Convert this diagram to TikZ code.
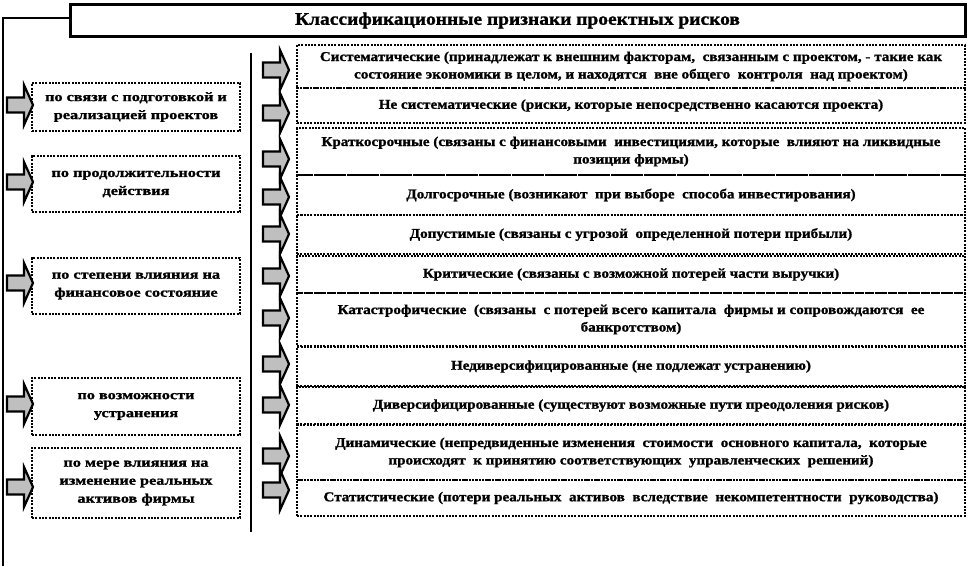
\documentclass[tikz,border=0pt]{standalone}
\usepackage{fontspec}
\setmainfont{Liberation Serif}
\newfontfamily\rfont{Liberation Serif}[FakeStretch=1.12, BoldFeatures={FakeBold=1.2}]
\newfontfamily\lfont{Liberation Serif}[FakeStretch=1.25, BoldFeatures={FakeBold=1.2}]
\newfontfamily\tfont{Liberation Serif}[FakeStretch=1.1, BoldFeatures={FakeBold=1.2}]
\begin{document}
\begin{tikzpicture}[x=1pt,y=-1pt,
  dotbox/.style={draw, line width=2pt, dash pattern=on 2pt off 1.3pt, inner sep=0pt},
  rtext/.style={font=\rfont\bfseries\fontsize{13.5}{17.5}\selectfont, align=center},
  ltext/.style={font=\lfont\bfseries\fontsize{13}{18}\selectfont, align=center},
  lbox/.style={dotbox, ltext, minimum width=208pt},
  rbox/.style={dotbox, rtext, minimum width=668pt},
  barrow/.pic={\draw[line width=2.2pt, fill=gray!50, line join=miter]
      (0,-7.5) -- (17,-7.5) -- (17,-20) -- (26,0) -- (17,20) -- (17,7.5) -- (0,7.5) -- cycle;}
]
\useasboundingbox (0,0) rectangle (970,566);
% title
\node[draw, line width=3pt, minimum width=895pt, minimum height=32pt, inner sep=0pt,
      font=\tfont\bfseries\fontsize{17.7}{19}\selectfont] (title) at (517.5,20.5)
      {Классификационные признаки проектных рисков};
\coordinate (bk) at (3,566);
\draw[line width=2pt] ([yshift=3pt]title.west) -| (bk);
\coordinate (mt) at (251,53);
\coordinate (mb) at (251,532);
\draw[line width=1.6pt] (mt) -- (mb);
% left boxes
\node[lbox, minimum height=48pt] (L1) at (136,107) {по связи с подготовкой и\\реализацией проектов};
\node[lbox, minimum height=56pt] (L2) at (136,184) {по продолжительности\\действия};
\node[lbox, minimum height=56pt] (L3) at (136,286) {по степени влияния на\\финансовое состояние};
\node[lbox, minimum height=57pt] (L4) at (136,406.5) {по возможности\\устранения};
\node[lbox, minimum height=70pt] (L5) at (136,483) {по мере влияния на\\изменение реальных\\активов фирмы};
% right boxes
\node[rbox, minimum height=43pt] (R1) at (631,66.5) {Систематические (принадлежат к внешним факторам,\ \ связанным с проектом, - такие как\\состояние экономики в целом, и находятся\ \ вне общего\ \ контроля\ \ над проектом)};
\node[rbox, minimum height=35pt] (R2) at (631,105.5) {Не систематические (риски, которые непосредственно касаются проекта)};
\node[rbox, minimum height=47pt] (R3) at (631,151.5) {Краткосрочные (связаны с финансовыми\ \ инвестициями, которые\ \ влияют на ликвидные\\позиции фирмы)};
\node[rbox, minimum height=40pt] (R4) at (631,195) {Долгосрочные (возникают\ \ при выборе\ \ способа инвестирования)};
\node[rbox, minimum height=39pt] (R5) at (631,234.5) {Допустимые (связаны с угрозой\ \ определенной потери прибыли)};
\node[rbox, minimum height=37pt] (R6) at (631,274.5) {Критические (связаны с возможной потерей части выручки)};
\node[rbox, minimum height=53pt] (R7) at (631,319.5) {Катастрофические\ \ (связаны\ \ с потерей всего капитала\ \ фирмы и сопровождаются\ \ ее\\банкротством)};
\node[rbox, minimum height=39pt] (R8) at (631,366.5) {Недиверсифицированные (не подлежат устранению)};
\node[rbox, minimum height=37pt] (R9) at (631,405.5) {Диверсифицированные (существуют возможные пути преодоления рисков)};
\node[rbox, minimum height=55pt] (R10) at (631,452.5) {Динамические (непредвиденные изменения\ \ стоимости\ \ основного капитала,\ \ которые\\происходят\ \ к принятию соответствующих\ \ управленческих\ \ решений)};
\node[rbox, minimum height=36pt] (R11) at (631,498) {Статистические (потери реальных\ \ активов\ \ вследствие\ \ некомпетентности\ \ руководства)};
% left arrows
\foreach \y [count=\i] in {105,182,283,404,487} \pic (la\i) at (7,\y) {barrow};
% right arrows
\foreach \y [count=\i] in {70,113,159,197,234,276,318,364,405,456,490} \pic (ra\i) at (263,\y) {barrow};
\end{tikzpicture}
\end{document}
